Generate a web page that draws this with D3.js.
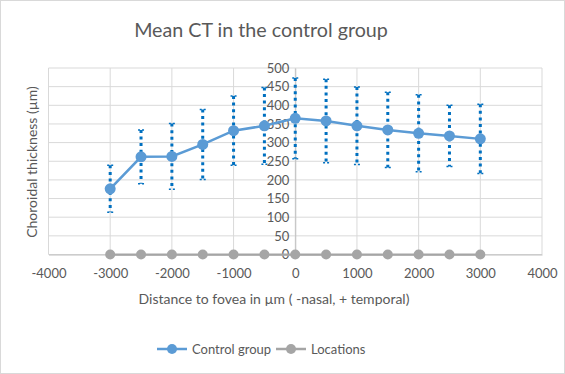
<!DOCTYPE html>
<html>
<head>
<meta charset="utf-8">
<script src="https://cdn.jsdelivr.net/npm/d3@7"></script>
<style>
  body { margin: 0; background: #fff; }
  svg text { font-family: Lato, "Open Sans", sans-serif; }
</style>
</head>
<body>
<div id="chart"></div>
<script>
// Data
var locations = [-3000, -2500, -2000, -1500, -1000, -500, 0, 500, 1000, 1500, 2000, 2500, 3000];
var meanCT = [176, 262, 263, 295, 332, 345, 365, 358, 345, 334, 325, 318, 310];
var sdCT = [63, 72, 88, 94, 93, 103, 108, 112, 104, 101, 103, 82, 93];
var xTicks = [-4000, -3000, -2000, -1000, 0, 1000, 2000, 3000, 4000];
var yTicks = [0, 50, 100, 150, 200, 250, 300, 350, 400, 450, 500];

var w = 565, h = 374;
var blue = "#5B9BD5", errBlue = "#0070C0", grey = "#A5A5A5", textCol = "#595959";

var svg = d3.select("#chart").append("svg")
  .attr("width", w).attr("height", h);

// chart frame
svg.append("rect")
  .attr("x", 0.5).attr("y", 0.5)
  .attr("width", w - 1).attr("height", h - 1)
  .attr("fill", "#fff").attr("stroke", "#D9D9D9");

var x = d3.scaleLinear().domain([-4000, 4000]).range([48.5, 542]);
var y = d3.scaleLinear().domain([0, 500]).range([254.5, 68]);

// gridlines
svg.append("g").selectAll("line")
  .data(yTicks).enter().append("line")
    .attr("x1", x(-4000)).attr("x2", x(4000))
    .attr("y1", function(d) { return y(d); })
    .attr("y2", function(d) { return y(d); })
    .attr("stroke", "#D9D9D9").attr("stroke-width", 1);
svg.append("g").selectAll("line")
  .data(xTicks).enter().append("line")
    .attr("x1", function(d) { return x(d); })
    .attr("x2", function(d) { return x(d); })
    .attr("y1", y(0)).attr("y2", y(500))
    .attr("stroke", "#D9D9D9").attr("stroke-width", 1);

// y axis crosses at x = 0
var yAxis = d3.axisLeft(y).tickValues(yTicks).tickSize(0).tickPadding(6);
var gy = svg.append("g").attr("transform", "translate(" + x(0) + ",0)").call(yAxis);
gy.select(".domain").attr("stroke", "#BFBFBF");
gy.selectAll("text").attr("fill", textCol).style("font-size", "13px");

// plain hyphen for negatives, like the original
var xAxis = d3.axisBottom(x).tickValues(xTicks).tickSize(0).tickPadding(14)
  .tickFormat(function(d) { return String(d); });
var gx = svg.append("g").attr("transform", "translate(0," + y(0) + ")").call(xAxis);
gx.select(".domain").attr("stroke", "#BFBFBF");
gx.selectAll("text").attr("fill", textCol).style("font-size", "13px");

// error bars (dotted)
var eb = svg.append("g");
locations.forEach(function(loc, i) {
  var top = meanCT[i] + sdCT[i], bot = meanCT[i] - sdCT[i];
  eb.append("line")
    .attr("x1", x(loc)).attr("x2", x(loc))
    .attr("y1", y(top)).attr("y2", y(bot))
    .attr("stroke", errBlue).attr("stroke-width", 3)
    .attr("stroke-dasharray", "3,3.6");
  [top, bot].forEach(function(v) {
    eb.append("line")
      .attr("x1", x(loc) - 3).attr("x2", x(loc) + 3)
      .attr("y1", y(v)).attr("y2", y(v))
      .attr("stroke", errBlue).attr("stroke-width", 1.5)
      .attr("stroke-dasharray", "2,2");
  });
});

// Locations series at y = 0
var lineLoc = d3.line().x(function(d) { return x(d); }).y(function() { return y(0); });
svg.append("path").datum(locations)
  .attr("d", lineLoc).attr("fill", "none")
  .attr("stroke", grey).attr("stroke-width", 2.25);
svg.append("g").selectAll("circle")
  .data(locations).enter().append("circle")
    .attr("cx", function(d) { return x(d); })
    .attr("cy", y(0)).attr("r", 5)
    .attr("fill", grey);

// Control group series
var lineMean = d3.line()
  .x(function(d, i) { return x(locations[i]); })
  .y(function(d) { return y(d); });
svg.append("path").datum(meanCT)
  .attr("d", lineMean).attr("fill", "none")
  .attr("stroke", blue).attr("stroke-width", 2.5);
svg.append("g").selectAll("circle")
  .data(meanCT).enter().append("circle")
    .attr("cx", function(d, i) { return x(locations[i]); })
    .attr("cy", function(d) { return y(d); })
    .attr("r", 5.5)
    .attr("fill", blue);

// titles
svg.append("text")
  .attr("x", 261).attr("y", 37)
  .attr("text-anchor", "middle")
  .attr("fill", textCol).style("font-size", "19.7px")
  .text("Mean CT in the control group");

svg.append("text")
  .attr("x", 274).attr("y", 304)
  .attr("text-anchor", "middle")
  .attr("fill", textCol).style("font-size", "14px")
  .text("Distance to fovea in µm ( -nasal, + temporal)");

svg.append("text")
  .attr("transform", "translate(37," + 162 + ") rotate(-90)")
  .attr("text-anchor", "middle")
  .attr("fill", textCol).style("font-size", "14px")
  .text("Choroidal thickness (µm)");

// legend
var legend = [
  { name: "Control group", color: blue, x: 157 },
  { name: "Locations", color: grey, x: 276 }
];
var lg = svg.append("g").selectAll("g")
  .data(legend).enter().append("g")
    .attr("transform", function(d) { return "translate(" + d.x + ",349)"; });
lg.append("line").attr("x1", 0).attr("x2", 30)
  .attr("stroke", function(d) { return d.color; }).attr("stroke-width", 2.5);
lg.append("circle").attr("cx", 15).attr("r", 5)
  .attr("fill", function(d) { return d.color; });
lg.append("text").attr("x", 35).attr("y", 5)
  .attr("fill", textCol).style("font-size", "13px")
  .text(function(d) { return d.name; });
</script>
</body>
</html>
